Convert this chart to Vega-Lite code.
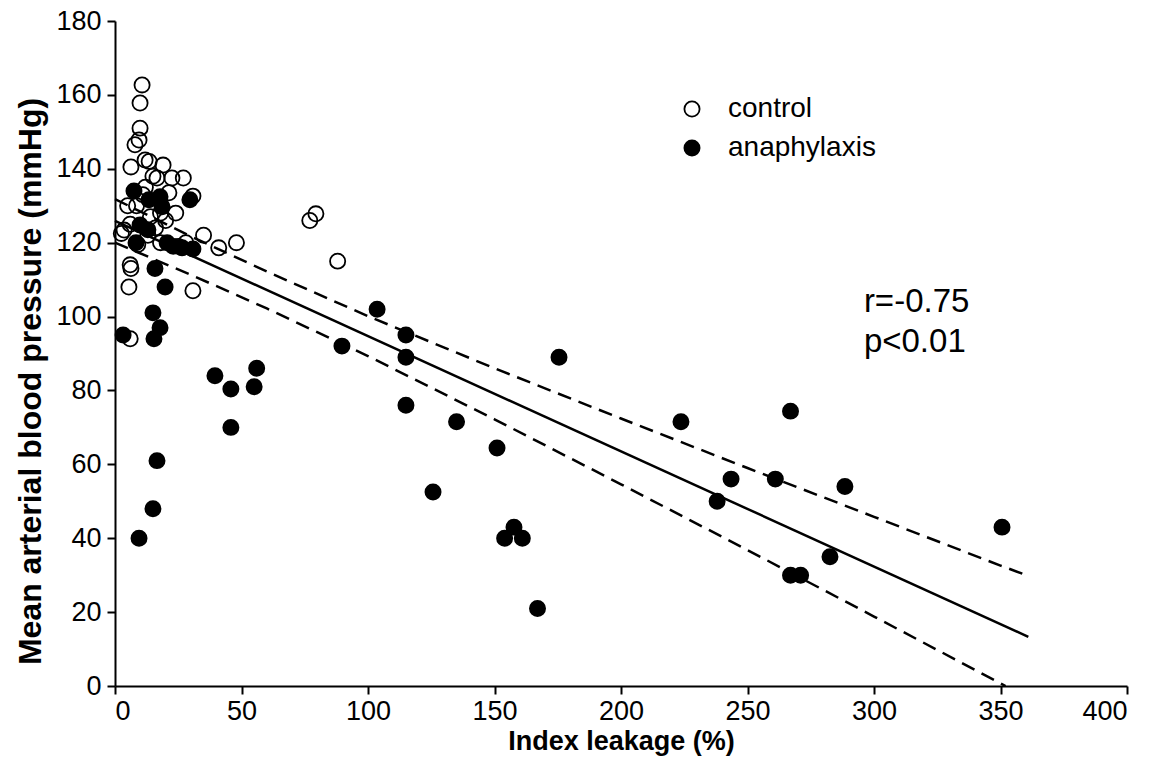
{
  "$schema": "https://vega.github.io/schema/vega-lite/v6.json",
  "width": 1012,
  "height": 665,
  "autosize": {"type": "none"},
  "padding": {"left": 115, "top": 21, "right": 41, "bottom": 90},
  "background": "white",
  "config": {
    "view": {"stroke": null},
    "font": "Liberation Sans",
    "axis": {
      "domainColor": "black", "domainWidth": 2, "tickColor": "black", "tickWidth": 2,
      "tickSize": 8, "grid": false, "labelColor": "black", "titleColor": "black",
      "labelFont": "Liberation Sans", "titleFont": "Liberation Sans",
      "labelFontSize": 27, "titleFontWeight": "bold"
    }
  },
  "datasets": {
    "points": [
      {"leak": 10.7, "map": 162.7, "group": "control"},
      {"leak": 9.9, "map": 157.8, "group": "control"},
      {"leak": 9.9, "map": 151, "group": "control"},
      {"leak": 9.5, "map": 147.8, "group": "control"},
      {"leak": 7.9, "map": 146.5, "group": "control"},
      {"leak": 6.3, "map": 140.5, "group": "control"},
      {"leak": 11.9, "map": 142.4, "group": "control"},
      {"leak": 13.5, "map": 142, "group": "control"},
      {"leak": 19, "map": 141, "group": "control"},
      {"leak": 16.6, "map": 137.5, "group": "control"},
      {"leak": 22.5, "map": 137.5, "group": "control"},
      {"leak": 27, "map": 137.5, "group": "control"},
      {"leak": 21.3, "map": 133.5, "group": "control"},
      {"leak": 30.8, "map": 132.6, "group": "control"},
      {"leak": 24, "map": 128, "group": "control"},
      {"leak": 18, "map": 128, "group": "control"},
      {"leak": 12, "map": 135, "group": "control"},
      {"leak": 5, "map": 130, "group": "control"},
      {"leak": 3.6, "map": 123.4, "group": "control"},
      {"leak": 2.5, "map": 122.5, "group": "control"},
      {"leak": 6, "map": 125, "group": "control"},
      {"leak": 6, "map": 114, "group": "control"},
      {"leak": 6.3, "map": 113, "group": "control"},
      {"leak": 5.5, "map": 108, "group": "control"},
      {"leak": 6, "map": 94, "group": "control"},
      {"leak": 8.5, "map": 130, "group": "control"},
      {"leak": 9, "map": 119.5, "group": "control"},
      {"leak": 13, "map": 122, "group": "control"},
      {"leak": 16, "map": 124, "group": "control"},
      {"leak": 18, "map": 120, "group": "control"},
      {"leak": 20, "map": 126, "group": "control"},
      {"leak": 28, "map": 120, "group": "control"},
      {"leak": 30.8, "map": 107, "group": "control"},
      {"leak": 35, "map": 122, "group": "control"},
      {"leak": 41, "map": 118.6, "group": "control"},
      {"leak": 48, "map": 120, "group": "control"},
      {"leak": 77, "map": 126, "group": "control"},
      {"leak": 79.4, "map": 127.8, "group": "control"},
      {"leak": 88, "map": 115, "group": "control"},
      {"leak": 25, "map": 119, "group": "control"},
      {"leak": 15, "map": 138, "group": "control"},
      {"leak": 14, "map": 127, "group": "control"},
      {"leak": 11, "map": 133, "group": "control"},
      {"leak": 3.2, "map": 95, "group": "anaphylaxis"},
      {"leak": 9.5, "map": 40, "group": "anaphylaxis"},
      {"leak": 15, "map": 48, "group": "anaphylaxis"},
      {"leak": 16.6, "map": 61, "group": "anaphylaxis"},
      {"leak": 17.8, "map": 97, "group": "anaphylaxis"},
      {"leak": 15.4, "map": 94, "group": "anaphylaxis"},
      {"leak": 15, "map": 101, "group": "anaphylaxis"},
      {"leak": 15.8, "map": 113, "group": "anaphylaxis"},
      {"leak": 19.8, "map": 108, "group": "anaphylaxis"},
      {"leak": 7.5, "map": 134, "group": "anaphylaxis"},
      {"leak": 13.4, "map": 131.6, "group": "anaphylaxis"},
      {"leak": 17.8, "map": 132.4, "group": "anaphylaxis"},
      {"leak": 18.6, "map": 129.7, "group": "anaphylaxis"},
      {"leak": 29.6, "map": 131.6, "group": "anaphylaxis"},
      {"leak": 8.3, "map": 120, "group": "anaphylaxis"},
      {"leak": 9.9, "map": 124.8, "group": "anaphylaxis"},
      {"leak": 13, "map": 123.5, "group": "anaphylaxis"},
      {"leak": 20.6, "map": 120, "group": "anaphylaxis"},
      {"leak": 23, "map": 119, "group": "anaphylaxis"},
      {"leak": 26.5, "map": 118.6, "group": "anaphylaxis"},
      {"leak": 30.8, "map": 118.3, "group": "anaphylaxis"},
      {"leak": 39.5, "map": 84, "group": "anaphylaxis"},
      {"leak": 45.8, "map": 80.4, "group": "anaphylaxis"},
      {"leak": 45.8, "map": 70, "group": "anaphylaxis"},
      {"leak": 55, "map": 81, "group": "anaphylaxis"},
      {"leak": 56, "map": 86, "group": "anaphylaxis"},
      {"leak": 89.7, "map": 92, "group": "anaphylaxis"},
      {"leak": 103.6, "map": 102, "group": "anaphylaxis"},
      {"leak": 115, "map": 95, "group": "anaphylaxis"},
      {"leak": 115, "map": 89, "group": "anaphylaxis"},
      {"leak": 115, "map": 76, "group": "anaphylaxis"},
      {"leak": 135, "map": 71.5, "group": "anaphylaxis"},
      {"leak": 125.7, "map": 52.5, "group": "anaphylaxis"},
      {"leak": 151, "map": 64.4, "group": "anaphylaxis"},
      {"leak": 154, "map": 40, "group": "anaphylaxis"},
      {"leak": 157.7, "map": 43, "group": "anaphylaxis"},
      {"leak": 161, "map": 40, "group": "anaphylaxis"},
      {"leak": 167, "map": 21, "group": "anaphylaxis"},
      {"leak": 175.5, "map": 89, "group": "anaphylaxis"},
      {"leak": 223.7, "map": 71.5, "group": "anaphylaxis"},
      {"leak": 238, "map": 50, "group": "anaphylaxis"},
      {"leak": 243.5, "map": 56, "group": "anaphylaxis"},
      {"leak": 261, "map": 56, "group": "anaphylaxis"},
      {"leak": 267, "map": 74.4, "group": "anaphylaxis"},
      {"leak": 267, "map": 30, "group": "anaphylaxis"},
      {"leak": 271, "map": 30, "group": "anaphylaxis"},
      {"leak": 282.6, "map": 35, "group": "anaphylaxis"},
      {"leak": 288.5, "map": 54, "group": "anaphylaxis"},
      {"leak": 350.6, "map": 43, "group": "anaphylaxis"}
    ],
    "fit": [
      {"leak": 0, "map": 125.9, "line": "fit"},
      {"leak": 361, "map": 13.3, "line": "fit"}
    ],
    "band": [
      {"leak": 0, "map": 131.8, "line": "upper"},
      {"leak": 30, "map": 121.7, "line": "upper"},
      {"leak": 60, "map": 112.2, "line": "upper"},
      {"leak": 100, "map": 100.1, "line": "upper"},
      {"leak": 150, "map": 86.0, "line": "upper"},
      {"leak": 200, "map": 72.4, "line": "upper"},
      {"leak": 250, "map": 59.0, "line": "upper"},
      {"leak": 300, "map": 45.8, "line": "upper"},
      {"leak": 350, "map": 32.6, "line": "upper"},
      {"leak": 361, "map": 29.8, "line": "upper"},
      {"leak": 0, "map": 120.0, "line": "lower"},
      {"leak": 30, "map": 111.3, "line": "lower"},
      {"leak": 60, "map": 102.2, "line": "lower"},
      {"leak": 100, "map": 89.3, "line": "lower"},
      {"leak": 150, "map": 72.2, "line": "lower"},
      {"leak": 200, "map": 54.6, "line": "lower"},
      {"leak": 250, "map": 36.8, "line": "lower"},
      {"leak": 300, "map": 18.8, "line": "lower"},
      {"leak": 352, "map": 0, "line": "lower"}
    ],
    "notes": [
      {"leak": 296, "map": 104, "label": "r=-0.75"},
      {"leak": 296, "map": 93, "label": "p<0.01"}
    ]
  },
  "layer": [
    {
      "data": {"name": "band"},
      "mark": {"type": "line", "color": "black", "strokeWidth": 2.5, "strokeDash": [14, 8]},
      "encoding": {
        "x": {"field": "leak", "type": "quantitative", "scale": {"domain": [0, 400], "nice": false},
          "axis": {"values": [0, 50, 100, 150, 200, 250, 300, 350, 400], "title": "Index leakage (%)",
            "titleFontSize": 27, "titlePadding": 4, "labelPadding": 4}},
        "y": {"field": "map", "type": "quantitative", "scale": {"domain": [0, 180], "nice": false},
          "axis": {"values": [0, 20, 40, 60, 80, 100, 120, 140, 160, 180], "title": "Mean arterial blood pressure (mmHg)",
            "titleFontSize": 32, "titlePadding": 8, "labelPadding": 6, "titleY": 360}},
        "detail": {"field": "line"}
      }
    },
    {
      "data": {"name": "fit"},
      "mark": {"type": "line", "color": "black", "strokeWidth": 2.5},
      "encoding": {
        "x": {"field": "leak", "type": "quantitative"},
        "y": {"field": "map", "type": "quantitative"}
      }
    },
    {
      "data": {"name": "points"},
      "mark": {"type": "point", "shape": "circle", "size": 230, "stroke": "black", "strokeWidth": 1.8, "opacity": 1, "filled": false},
      "encoding": {
        "x": {"field": "leak", "type": "quantitative"},
        "y": {"field": "map", "type": "quantitative"},
        "fill": {"field": "group", "type": "nominal",
          "scale": {"domain": ["control", "anaphylaxis"], "range": ["transparent", "black"]},
          "legend": {"title": null, "orient": "none", "legendX": 563, "legendY": 74,
            "labelFontSize": 28, "labelFont": "Liberation Sans", "labelColor": "black",
            "symbolSize": 230, "symbolStrokeColor": "black", "symbolStrokeWidth": 1.8, "symbolType": "circle",
            "labelOffset": 22, "rowPadding": 11}},
        "order": {"field": "group", "sort": "descending"}
      }
    },
    {
      "data": {"name": "notes"},
      "mark": {"type": "text", "align": "left", "baseline": "middle", "fontSize": 33, "font": "Liberation Sans", "color": "black"},
      "encoding": {
        "x": {"field": "leak", "type": "quantitative"},
        "y": {"field": "map", "type": "quantitative"},
        "text": {"field": "label"}
      }
    }
  ]
}
